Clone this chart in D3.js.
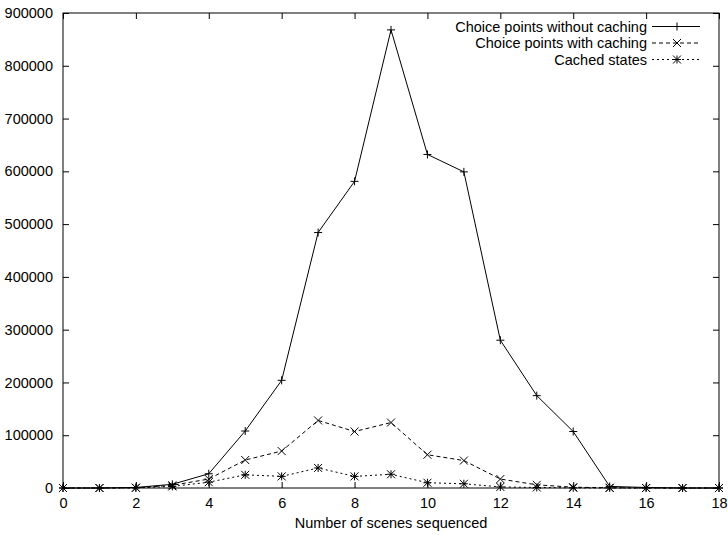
<!DOCTYPE html>
<html>
<head>
<meta charset="utf-8">
<script src="https://cdn.jsdelivr.net/npm/d3@7"></script>
<style>
  body { margin: 0; background: #fff; }
  text { font-family: "Liberation Sans", Arial, sans-serif; font-size: 14.5px; fill: #000; }
</style>
</head>
<body>
<div id="chart"></div>
<script>
// Dados
var scenes = [0, 1, 2, 3, 4, 5, 6, 7, 8, 9, 10, 11, 12, 13, 14, 15, 16, 17, 18];
var withoutCaching = [0, 0, 1000, 7000, 27000, 108000, 204000, 484000, 581000, 868000, 632000, 599000, 280000, 175000, 107000, 3000, 1000, 0, 0];
var withCaching = [0, 0, 500, 5000, 17000, 53000, 70000, 128000, 107000, 124000, 63000, 52000, 17000, 6000, 1500, 500, 0, 0, 0];
var cachedStates = [0, 0, 300, 3000, 11000, 25000, 22000, 38000, 22000, 26000, 10000, 8000, 2000, 1000, 300, 100, 0, 0, 0];
var seriesNames = ["Choice points without caching", "Choice points with caching", "Cached states"];
var xTicks = [0, 2, 4, 6, 8, 10, 12, 14, 16, 18];
var yTicks = [0, 100000, 200000, 300000, 400000, 500000, 600000, 700000, 800000, 900000];

// Margens
var margin = { top: 13, left: 63, right: 9, bottom: 47 },
  width = 728 - margin.left - margin.right,
  height = 535 - margin.top - margin.bottom;

var svg = d3.select("#chart")
  .append("svg")
  .attr("width", 728)
  .attr("height", 535)
  .append("g")
  .attr("transform", "translate(" + margin.left + "," + margin.top + ")");

var xScale = d3.scaleLinear().domain([0, 18]).range([0, width]);
var yScale = d3.scaleLinear().domain([0, 900000]).range([height, 0]);

var tick = 6;

// Eixos (ticks para dentro, espelhados)
svg.append("g")
  .attr("transform", "translate(0," + height + ")")
  .call(d3.axisBottom(xScale).tickValues(xTicks).tickSize(-tick).tickPadding(10).tickFormat(d3.format("d")))
  .call(function(g) { g.select(".domain").remove(); });

svg.append("g")
  .call(d3.axisTop(xScale).tickValues(xTicks).tickSize(-tick).tickFormat(""))
  .call(function(g) { g.select(".domain").remove(); });

svg.append("g")
  .call(d3.axisLeft(yScale).tickValues(yTicks).tickSize(-tick).tickPadding(10).tickFormat(d3.format("d")))
  .call(function(g) { g.select(".domain").remove(); });

svg.append("g")
  .attr("transform", "translate(" + width + ",0)")
  .call(d3.axisRight(yScale).tickValues(yTicks).tickSize(-tick).tickFormat(""))
  .call(function(g) { g.select(".domain").remove(); });

svg.selectAll(".tick text").style("font-size", "14.5px").style("font-family", "Liberation Sans, Arial, sans-serif").attr("fill", "#000");
svg.selectAll(".tick line").attr("stroke", "#000");

// Moldura
svg.append("rect")
  .attr("width", width)
  .attr("height", height)
  .attr("fill", "none")
  .attr("stroke", "#000")
  .attr("stroke-width", 1);

// Séries
var series = [
  { name: seriesNames[0], values: withoutCaching, dash: null, marker: "plus" },
  { name: seriesNames[1], values: withCaching, dash: "4,3", marker: "cross" },
  { name: seriesNames[2], values: cachedStates, dash: "2,3", marker: "star" }
];

var line = d3.line()
  .x(function(d, i) { return xScale(scenes[i]); })
  .y(function(d) { return yScale(d); });

function marker(g, type, x, y) {
  var s = 4;
  var p = "";
  if (type === "plus" || type === "star") {
    p += "M" + (x - s) + "," + y + "H" + (x + s) + "M" + x + "," + (y - s) + "V" + (y + s);
  }
  if (type === "cross" || type === "star") {
    p += "M" + (x - s) + "," + (y - s) + "L" + (x + s) + "," + (y + s) + "M" + (x - s) + "," + (y + s) + "L" + (x + s) + "," + (y - s);
  }
  g.append("path").attr("d", p).attr("stroke", "#000").attr("stroke-width", 1).attr("fill", "none");
}

series.forEach(function(s) {
  svg.append("path")
    .datum(s.values)
    .attr("d", line)
    .attr("fill", "none")
    .attr("stroke", "#000")
    .attr("stroke-width", 1)
    .attr("stroke-dasharray", s.dash);

  var g = svg.append("g");
  s.values.forEach(function(v, i) {
    marker(g, s.marker, xScale(scenes[i]), yScale(v));
  });
});

// Legenda
var legend = svg.append("g");
series.forEach(function(s, i) {
  var y = 13.5 + i * 16.5;
  legend.append("text")
    .attr("x", 584)
    .attr("y", y)
    .attr("dy", "0.35em")
    .attr("text-anchor", "end")
    .text(s.name);
  legend.append("line")
    .attr("x1", 589).attr("x2", 637)
    .attr("y1", y).attr("y2", y)
    .attr("stroke", "#000")
    .attr("stroke-dasharray", s.dash);
  marker(legend, s.marker, 614, y);
});

// Rótulo do eixo x
svg.append("text")
  .attr("x", width / 2)
  .attr("y", height + 40)
  .attr("text-anchor", "middle")
  .text("Number of scenes sequenced");
</script>
</body>
</html>
